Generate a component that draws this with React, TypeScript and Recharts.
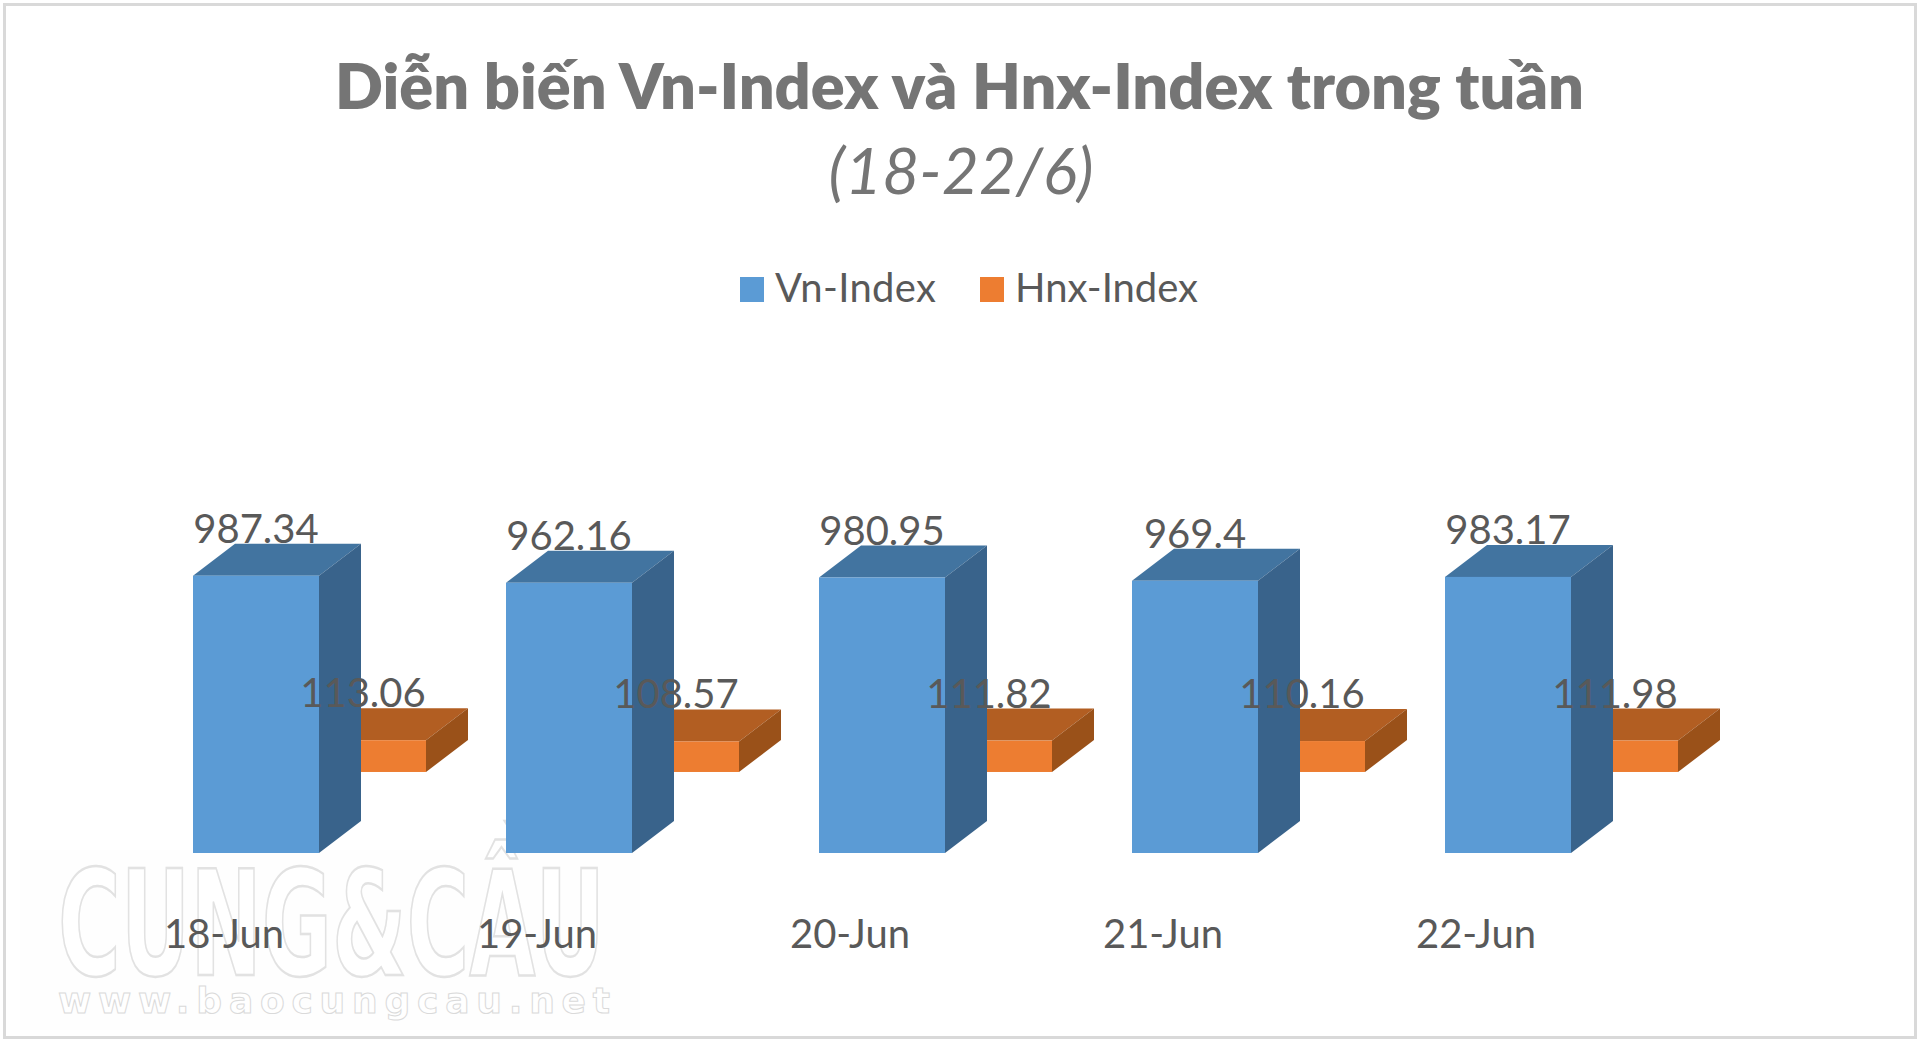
import { BarChart, Bar, XAxis, YAxis, LabelList } from "recharts";

const days = ["18-Jun", "19-Jun", "20-Jun", "21-Jun", "22-Jun"];
const vnIndex = [987.34, 962.16, 980.95, 969.4, 983.17];
const hnxIndex = [113.06, 108.57, 111.82, 110.16, 111.98];

const data = days.map((day, i) => ({ day, vn: vnIndex[i], hnx: hnxIndex[i] }));

const FONT = "Lato, sans-serif";
const DX = 42;
const DY = 32;

// fake 3D box, the way the original Excel chart looks
function box(front: string, top: string, side: string) {
  return (p: any) => {
    const { x, y, width: w, height: h } = p;
    return (
      <g>
        <polygon points={`${x},${y} ${x + DX},${y - DY} ${x + w + DX},${y - DY} ${x + w},${y}`} fill={top} />
        <polygon points={`${x + w},${y} ${x + w + DX},${y - DY} ${x + w + DX},${y + h - DY} ${x + w},${y + h}`} fill={side} />
        <rect x={x} y={y} width={w} height={h} fill={front} />
      </g>
    );
  };
}

const valueLabel = (p: any) => (
  <text
    x={p.x + p.width / 2}
    y={p.y - 33}
    textAnchor="middle"
    fontFamily={FONT}
    fontSize={40}
    fill="#595959"
  >
    {p.value}
  </text>
);

const DayTick = (p: any) => (
  <text x={p.x - 85.5} y={p.y + 87} textAnchor="middle" fontFamily={FONT} fontSize={40} fill="#595959">
    {p.payload.value}
  </text>
);

function Watermark() {
  return (
    <svg width={1920} height={1042} style={{ position: "absolute", left: 0, top: 0 }}>
      <rect x={20} y={850} width={620} height={180} fill="#fefefe" />
      <text
        x={58}
        y={975}
        textLength={547}
        lengthAdjust="spacingAndGlyphs"
        fontFamily="'DejaVu Sans', sans-serif"
        fontWeight={700}
        fontSize={146}
        fill="#ffffff"
        stroke="#e2e2e2"
        strokeWidth={2.5}
      >
        CUNG&amp;CẦU
      </text>
      <text
        x={58}
        y={1013}
        textLength={552}
        lengthAdjust="spacing"
        fontFamily="'DejaVu Sans', sans-serif"
        fontWeight={700}
        fontSize={36}
        fill="#ffffff"
        stroke="#dadada"
        strokeWidth={1}
      >
        www.baocungcau.net
      </text>
    </svg>
  );
}

export default function App() {
  return (
    <div style={{ position: "absolute", left: 0, top: 0, width: 1920, height: 1042, background: "#fff", overflow: "hidden" }}>
      <Watermark />
      <div
        style={{
          position: "absolute",
          left: 3,
          top: 3,
          width: 1908,
          height: 1030,
          border: "3px solid #d9d9d9",
        }}
      />
      <div style={{ position: "absolute", left: 0, top: 0 }}>
        <BarChart
          width={1920}
          height={1042}
          data={data}
          barSize={126}
          barGap={-233}
          margin={{ top: 516, right: 202, bottom: 129, left: 153 }}
        >
          <text x={335} y={109} textLength={1249} fontFamily={FONT} fontWeight={800} fontSize={63} fill="#757575">
            Diễn biến Vn-Index và Hnx-Index trong tuần
          </text>
          <text x={961} y={194} textAnchor="middle" fontFamily={FONT} fontStyle="italic" fontSize={64} fill="#757575">
            (18-22/6)
          </text>

          <rect x={740} y={277} width={24} height={25} fill="#5B9BD5" />
          <text x={775} y={302} textLength={161} fontFamily={FONT} fontSize={40} fill="#595959">Vn-Index</text>
          <rect x={980} y={277} width={24} height={25} fill="#ED7D31" />
          <text x={1015} y={302} textLength={183} fontFamily={FONT} fontSize={40} fill="#595959">Hnx-Index</text>

          <XAxis dataKey="day" height={60} axisLine={false} tickLine={false} tick={DayTick} />
          <YAxis yAxisId="vn" hide domain={[0, 1200]} />
          {/* orange bars float above the blue baseline in the original */}
          <YAxis yAxisId="hnx" hide domain={[-288.5, 911.5]} />

          <Bar dataKey="hnx" name="Hnx-Index" yAxisId="hnx" isAnimationActive={false} shape={box("#ED7D31", "#B25E22", "#9A5119")}>
            <LabelList dataKey="hnx" content={valueLabel} />
          </Bar>
          <Bar dataKey="vn" name="Vn-Index" yAxisId="vn" isAnimationActive={false} shape={box("#5B9BD5", "#4274A0", "#39638B")}>
            <LabelList dataKey="vn" content={valueLabel} />
          </Bar>
        </BarChart>
      </div>
    </div>
  );
}
